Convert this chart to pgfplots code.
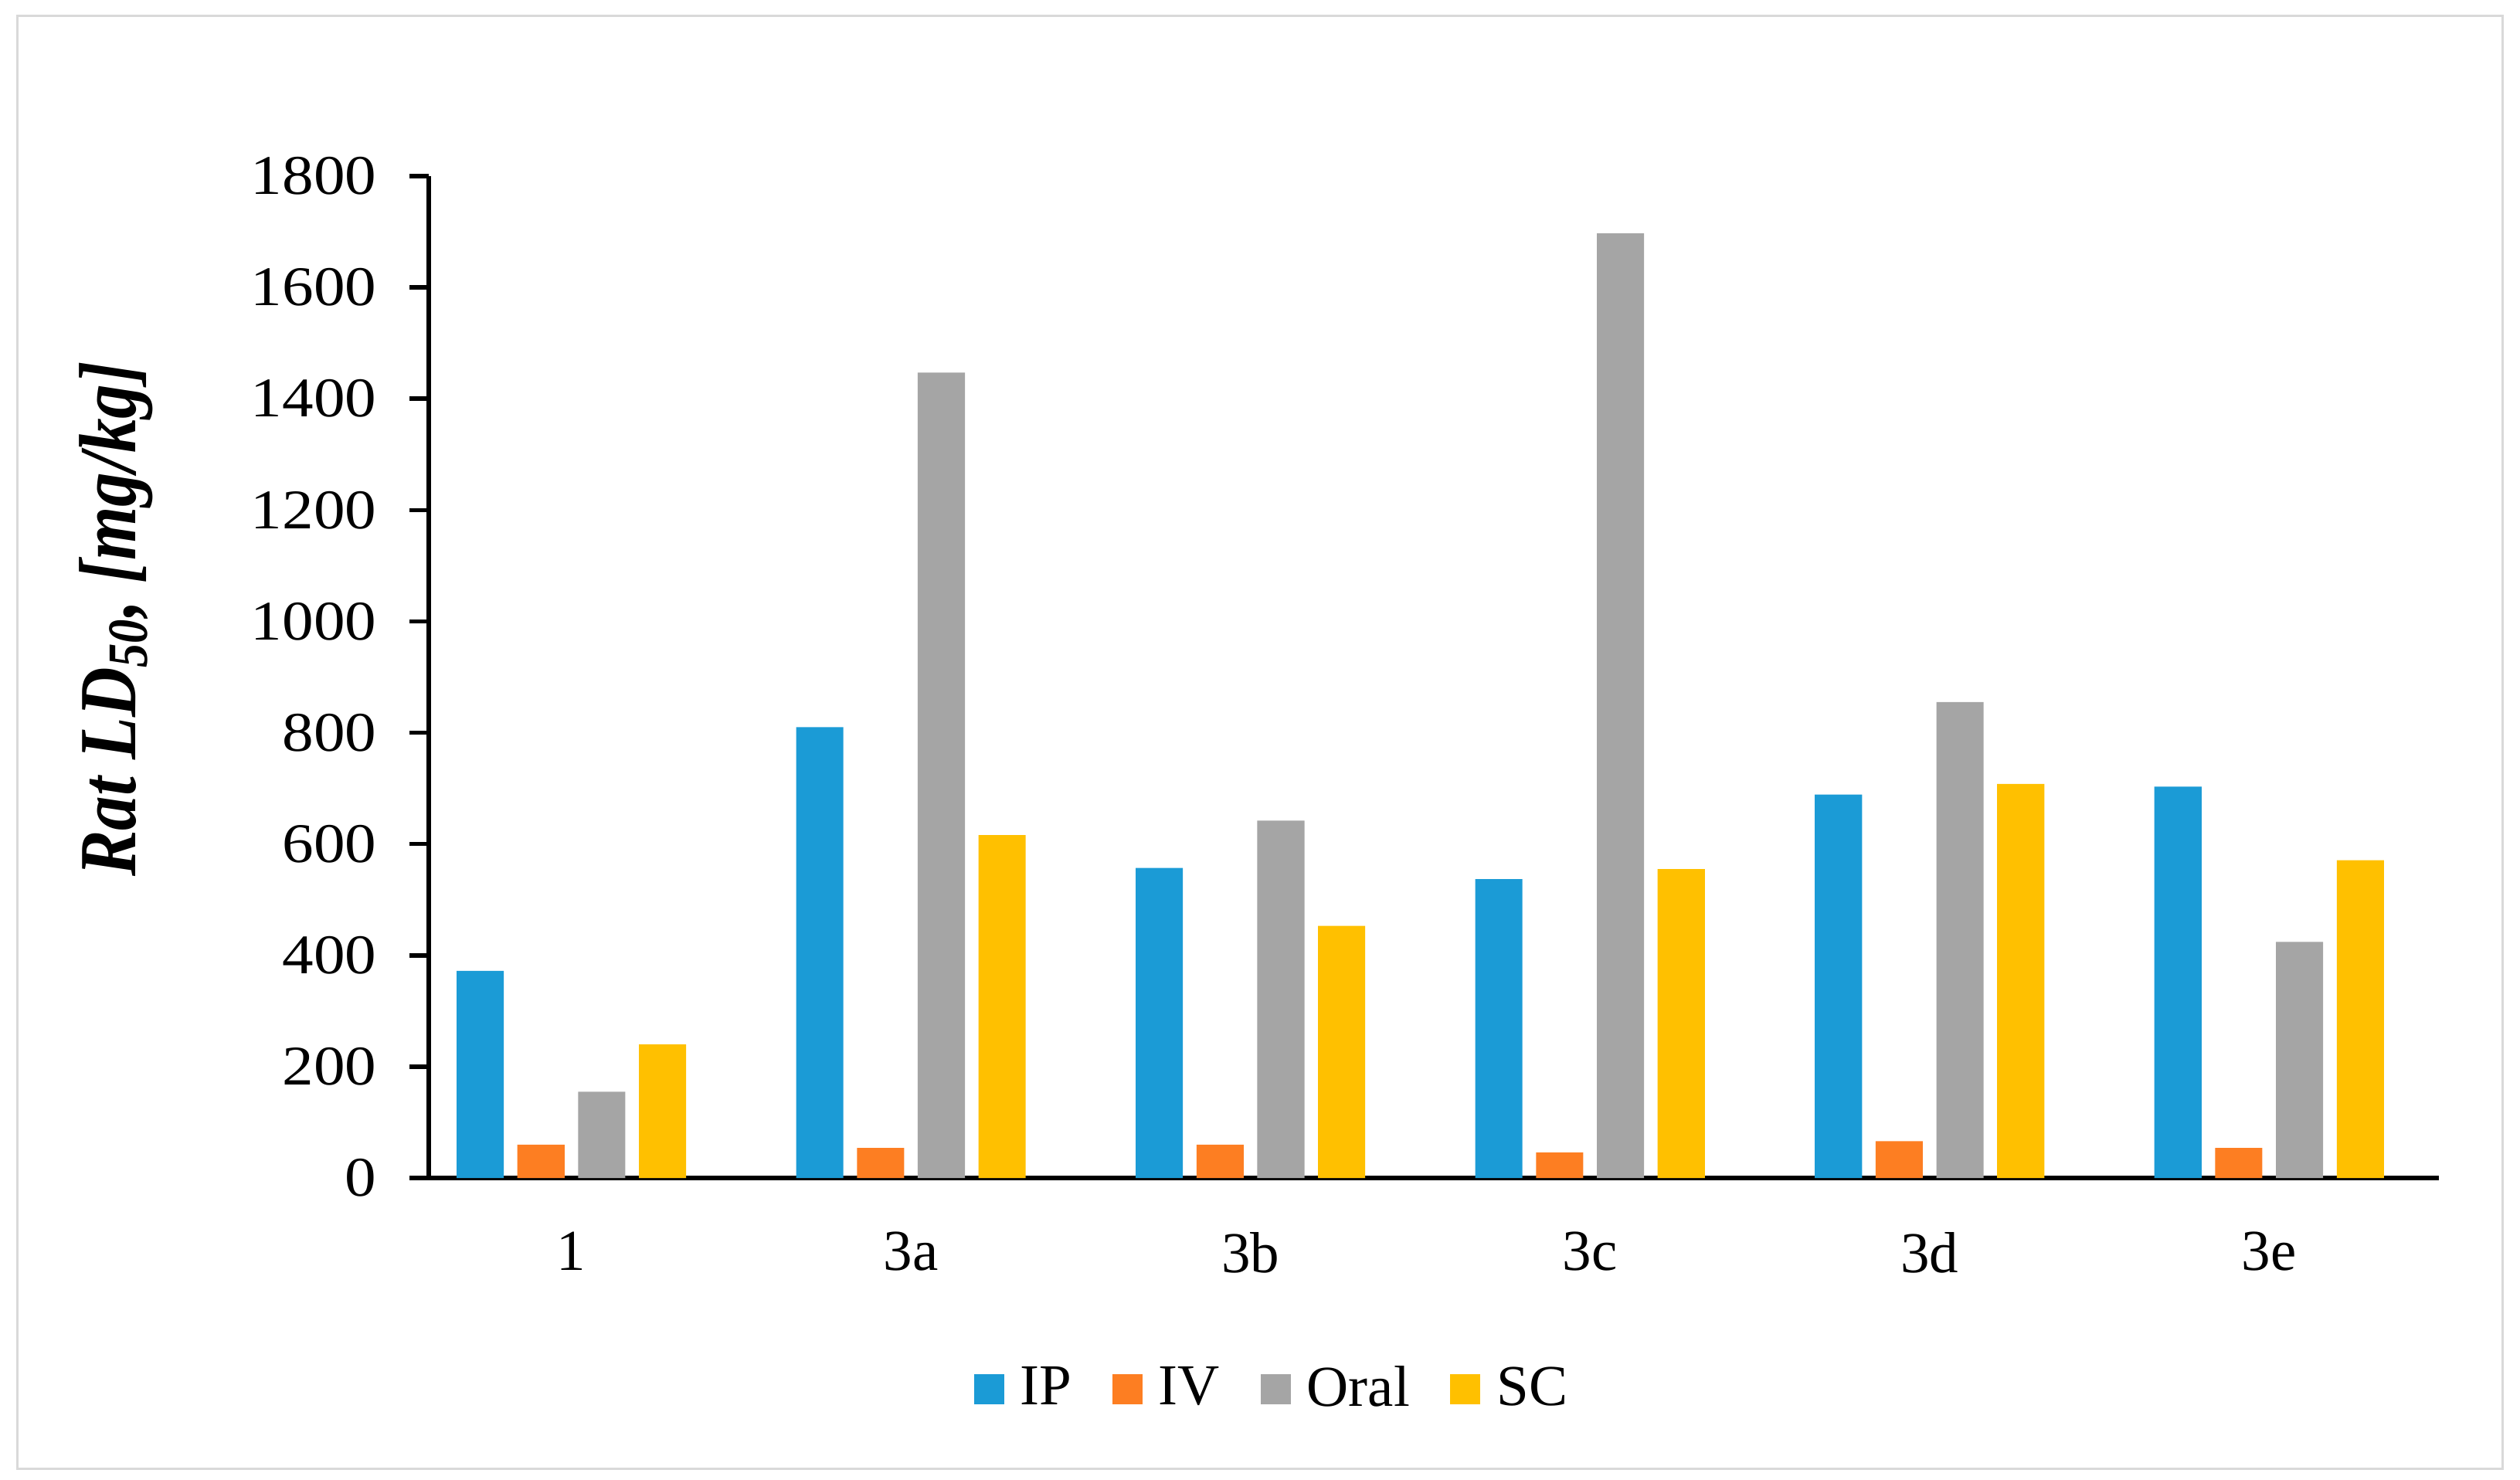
\documentclass[border=0pt]{standalone}
\usepackage{pgfplots}
\pgfplotsset{compat=1.18}
\usepackage{fontspec}
\setmainfont{Liberation Serif}
\usepackage{graphicx}
\definecolor{cIP}{RGB}{27,155,214}
\definecolor{cIV}{RGB}{253,126,34}
\definecolor{cOral}{RGB}{165,165,165}
\definecolor{cSC}{RGB}{255,192,0}
\definecolor{frameC}{RGB}{217,217,217}
\begin{document}
\begin{tikzpicture}
\path[use as bounding box] (-111pt,-78pt) rectangle (541.4pt,305pt);
\draw[color=frameC, line width=0.6pt] (-106.4pt,-75.2pt) rectangle (536.8pt,300.8pt);
\begin{axis}[
  scale only axis, width=520.4pt, height=259.4pt,
  at={(0pt,0pt)}, anchor=south west,
  xmin=-0.42, xmax=5.5, ymin=0, ymax=1800,
  axis x line=bottom, axis y line=left,
  axis line style={-, line width=1.1pt, black},
  xtick={0,1,2,3,4,5},
  xticklabels={1,3a,3b,3c,3d,3e},
  ytick={0,200,...,1800},
  x tick style={draw=none},
  y tick style={line width=1.1pt, black},
  tick align=outside, major tick length=5pt,
  /pgf/number format/assume math mode=true,
  /pgf/number format/1000 sep={},
  yticklabel={\scalebox{1.12}[1]{\pgfmathprintnumber{\tick}}},
  yticklabel style={font=\fontsize{14.5}{17}\selectfont, anchor=east, xshift=-5pt},
  xticklabel style={font=\fontsize{15}{18}\selectfont, yshift=-5.5pt},
  ylabel={\scalebox{0.85}[1]{\textbf{\textit{Rat LD\textsubscript{50}, [mg/kg]}}}},
  ylabel style={font=\fontsize{21}{24}\selectfont, at={(axis description cs:-0.1557,0.558)}, anchor=center},
  legend columns=-1,
  legend style={draw=none, at={(axis description cs:0.4208,-0.2105)}, anchor=center,
    font=\fontsize{15}{18}\selectfont,
    /tikz/every odd column/.append style={column sep=2.2pt},
    /tikz/every even column/.append style={column sep=8.5pt}},
  legend image code/.code={\fill[#1] (0pt,-3.9pt) rectangle (7.8pt,3.9pt);},
]
\addplot[ybar, bar width=0.139, bar shift=-0.2685, fill=cIP, draw=none]
  coordinates {(0,372) (1,810) (2,557) (3,537) (4,689) (5,703)};
\addlegendentry{IP}
\addplot[ybar, bar width=0.139, bar shift=-0.0895, fill=cIV, draw=none]
  coordinates {(0,60) (1,54) (2,60) (3,46) (4,66) (5,54)};
\addlegendentry{IV}
\addplot[ybar, bar width=0.139, bar shift=0.0895, fill=cOral, draw=none]
  coordinates {(0,155) (1,1447) (2,642) (3,1697) (4,855) (5,424)};
\addlegendentry{Oral}
\addplot[ybar, bar width=0.139, bar shift=0.2685, fill=cSC, draw=none]
  coordinates {(0,240) (1,616) (2,453) (3,555) (4,708) (5,571)};
\addlegendentry{SC}
\end{axis}
\end{tikzpicture}
\end{document}
